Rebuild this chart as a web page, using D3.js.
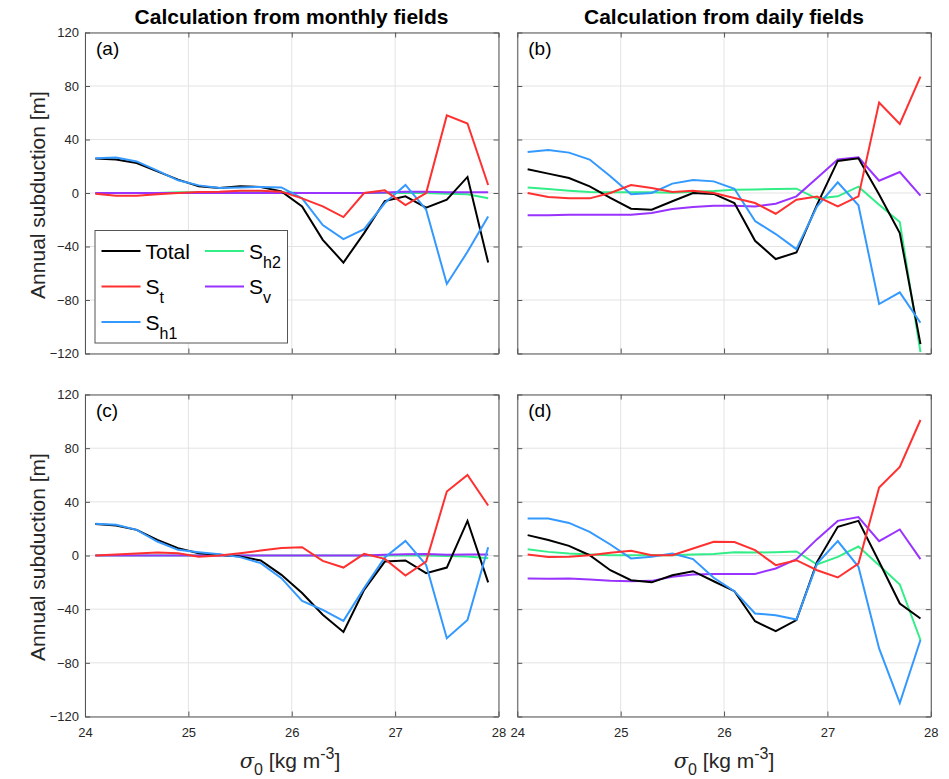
<!DOCTYPE html>
<html><head><meta charset="utf-8">
<script src="https://cdn.jsdelivr.net/npm/d3@7"></script>
<style>body{margin:0;background:#fff;} svg{display:block;font-family:"Liberation Sans",Arial,Helvetica,sans-serif;}</style>
</head><body>
<script>
const sigma = [24.1,24.3,24.5,24.7,24.9,25.1,25.3,25.5,25.7,25.9,26.1,26.3,26.5,26.7,26.9,27.1,27.3,27.5,27.7,27.9];
const xTicks = [24,25,26,27,28];
const yTicks = [-120,-80,-40,0,40,80,120];
const seriesNames = ["Total","St","Sh1","Sh2","Sv"];
const seriesColors = ["#000000","#ff3030","#3399ff","#33ee88","#9933ff"];

// Panel (a): monthly fields
const aTotal = [25.7,25,22.4,16.2,10,5,3.7,5,4.5,1.2,-10,-35,-52,-30,-6,-2.5,-11,-5,12,-52];
const aSt    = [-0.5,-2,-2,-1,0,0.7,1,1.7,1.7,1,-4,-10,-18,0,2,-9,0,58,52,6];
const aSh1   = [26,26.5,23.6,16.7,9.5,5.7,3.7,4.2,4.5,4.2,-4,-24,-34.5,-27,-7.5,6,-12.5,-68,-44,-17.5];
const aSh2   = [0,0,0,0,0.5,0.5,0.5,0.5,0.5,0.5,0,0,0,0,0,0,0,-0.5,-1,-4];
const aSv    = [0,0,0,0,0,0,0,0,0,0,0,0,0,0,0.3,1,1,0.5,0.5,0.5];
// Panel (b): daily fields
const bTotal = [17.7,14.5,11.2,5,-3.7,-11.7,-12.5,-6.2,0,-0.7,-7.5,-35.7,-49.4,-44.4,-8.7,24,26,-1.2,-30,-113];
const bSt    = [0,-3,-4,-4,0,6,3.7,0.7,1.7,0,-3.7,-7.5,-15.5,-5,-2.7,-10,-2.5,67.6,51.6,87];
const bSh1   = [30.7,32.2,30.2,25,12.5,-1,0,7,9.7,8.7,3.2,-21,-30.7,-42,-10,8,-9.2,-83,-74.3,-97];
const bSh2   = [4.2,3,1.7,0.7,0.5,0.5,0.5,0.2,1,1.5,2.5,2.7,3,3.2,-4.2,-2.5,4.7,-8.7,-21.7,-119];
const bSv    = [-16.7,-16.7,-16.2,-16.2,-16.2,-16.2,-15,-12,-10.5,-9.5,-9.5,-10,-8,-2.5,11.2,25,26.7,9.2,15.7,-2];
// Panel (c): monthly fields
const cTotal = [23.4,22.4,19.1,11.7,5.5,1.7,0.5,-0.7,-3.7,-14.4,-28,-44.2,-57,-25.6,-4.5,-3.7,-13.2,-9,25.8,-20];
const cSt    = [0,0.7,1.5,2.2,1.7,-1,0,1.7,3.7,5.5,6.2,-4,-9,1.2,-2.5,-15,-4.5,47.7,60,37.3];
const cSh1   = [23.6,22.9,19.1,10.4,4.2,2.5,1,-1.2,-5.7,-16.9,-33.8,-40.5,-48.7,-24.3,-1.5,10.9,-7,-61.6,-48,6.2];
const cSh2   = [0,0,0,0,0,0,0,0,0,0,0,0,0,0,0,0,0,-0.3,-0.7,-2];
const cSv    = [0,0,0,0,0,0,0,0,0,0,0,0,0,0,0.5,1,1.2,0.5,0.7,0.7];
// Panel (d): daily fields
const dTotal = [15.2,11.5,7.2,0.2,-11,-18.4,-20,-14.7,-11.7,-19.2,-26.6,-49,-56.4,-48.2,-4.7,21.4,25.8,-4.7,-35.8,-47];
const dSt    = [0.7,-1.2,-1,0.2,2,3.5,0.2,0.2,5.2,10.2,10,4,-7.2,-3.5,-11,-16.4,-6,50.7,66,101];
const dSh1   = [27.6,27.6,24.3,17.6,8.2,-2.2,-1,1.5,-2.7,-16.6,-26.6,-43.2,-44.5,-47.7,-6,10.7,-8.4,-69.3,-110,-63];
const dSh2   = [4.7,2.7,1.5,0.7,0.2,0.2,0.2,0.2,0.7,1.2,2.5,2.2,2.5,3,-6.7,-1,6.7,-7.2,-21.6,-63];
const dSv    = [-17.2,-17.4,-17.2,-17.9,-18.9,-19.1,-18.9,-15.9,-14.2,-13.7,-13.7,-13.7,-9.7,-2.7,12.2,25.8,28.6,10.7,19.4,-2.7];

const panels = [
  {tag:"(a)", series:[aTotal,aSt,aSh1,aSh2,aSv], x0:85, x1:498.5, y0:32.5, y1:353.5, yl:true, xl:false, legend:true},
  {tag:"(b)", series:[bTotal,bSt,bSh1,bSh2,bSv], x0:517.3, x1:930.8, y0:32.5, y1:353.5, yl:false, xl:false},
  {tag:"(c)", series:[cTotal,cSt,cSh1,cSh2,cSv], x0:85, x1:498.5, y0:394.5, y1:716.5, yl:true, xl:true},
  {tag:"(d)", series:[dTotal,dSt,dSh1,dSh2,dSv], x0:517.3, x1:930.8, y0:394.5, y1:716.5, yl:false, xl:true}
];

const W=949,H=779;
const svg = d3.select("body").append("svg").attr("width",W).attr("height",H);

panels.forEach(p=>{
  const x = d3.scaleLinear().domain([24,28]).range([p.x0,p.x1]);
  const y = d3.scaleLinear().domain([-120,120]).range([p.y1,p.y0]);
  const g = svg.append("g");
  g.append("rect").attr("x",p.x0).attr("y",p.y0).attr("width",p.x1-p.x0).attr("height",p.y1-p.y0).attr("fill","#fff");
  // grid
  g.selectAll(".gx").data(xTicks).join("line").attr("x1",d=>x(d)).attr("x2",d=>x(d)).attr("y1",p.y0).attr("y2",p.y1).attr("stroke","#e3e3e3").attr("stroke-width",1);
  g.selectAll(".gy").data(yTicks).join("line").attr("y1",d=>y(d)).attr("y2",d=>y(d)).attr("x1",p.x0).attr("x2",p.x1).attr("stroke","#e3e3e3").attr("stroke-width",1);
  // axes (ticks inward)
  const tl=5;
  const axL = d3.axisLeft(y).tickValues(yTicks).tickSizeInner(-tl).tickSizeOuter(0).tickPadding(6).tickFormat(p.yl?d3.format("d"):"");
  const axR = d3.axisRight(y).tickValues(yTicks).tickSizeInner(-tl).tickSizeOuter(0).tickFormat("");
  const axB = d3.axisBottom(x).tickValues(xTicks).tickSizeInner(-tl).tickSizeOuter(0).tickPadding(11).tickFormat(p.xl?d3.format("d"):"");
  const axT = d3.axisTop(x).tickValues(xTicks).tickSizeInner(-tl).tickSizeOuter(0).tickFormat("");
  [[axL,`translate(${p.x0},0)`],[axR,`translate(${p.x1},0)`],[axB,`translate(0,${p.y1})`],[axT,`translate(0,${p.y0})`]].forEach(([ax,tr])=>{
    const a=g.append("g").attr("transform",tr).call(ax);
    a.select(".domain").attr("stroke","#555");
    a.selectAll(".tick line").attr("stroke","#555");
    a.selectAll("text").attr("font-size",13).attr("fill","#262626").attr("font-family","Liberation Sans, Arial, sans-serif");
  });
  // lines
  const line = d3.line().x((d,i)=>x(sigma[i])).y(d=>y(d));
  [3,4,0,2,1].forEach(k=>{
    g.append("path").datum(p.series[k]).attr("d",line).attr("fill","none").attr("stroke",seriesColors[k]).attr("stroke-width",2).attr("stroke-linejoin","miter");
  });
  g.append("text").attr("x",p.x0+11).attr("y",p.y0+22).attr("font-size",19).attr("fill","#000").text(p.tag);

  if(p.legend){
    const lg = svg.append("g");
    lg.append("rect").attr("x",95).attr("y",230.5).attr("width",192.5).attr("height",112.5).attr("fill","#fff").attr("stroke","#555").attr("stroke-width",1);
    const items=[
      {k:0,cx:101.5,cy:251,main:"Total",sub:""},
      {k:1,cx:101.5,cy:286.5,main:"S",sub:"t"},
      {k:2,cx:101.5,cy:322,main:"S",sub:"h1"},
      {k:3,cx:205,cy:251,main:"S",sub:"h2"},
      {k:4,cx:205,cy:286.5,main:"S",sub:"v"}
    ];
    items.forEach(it=>{
      lg.append("line").attr("x1",it.cx).attr("x2",it.cx+39).attr("y1",it.cy).attr("y2",it.cy).attr("stroke",seriesColors[it.k]).attr("stroke-width",2);
      const t=lg.append("text").attr("x",it.cx+44).attr("y",it.cy+7.5).attr("font-size",21).attr("fill","#000");
      t.append("tspan").text(it.main);
      if(it.sub) t.append("tspan").attr("dy",9).attr("font-size",16).text(it.sub);
    });
  }
});

// titles
svg.append("text").attr("x",291.5).attr("y",24).attr("text-anchor","middle").attr("font-size",21).attr("font-weight","bold").text("Calculation from monthly fields");
svg.append("text").attr("x",724).attr("y",24).attr("text-anchor","middle").attr("font-size",21).attr("font-weight","bold").text("Calculation from daily fields");
// y labels
[195,557].forEach(cy=>{
  svg.append("text").attr("transform",`translate(45,${cy}) rotate(-90)`).attr("text-anchor","middle").attr("font-size",21).attr("fill","#262626").text("Annual subduction [m]");
});
// x labels
[290,724].forEach(cx=>{
  const t=svg.append("text").attr("x",cx).attr("y",768).attr("text-anchor","middle").attr("font-size",21).attr("fill","#262626");
  t.append("tspan").attr("font-style","italic").attr("font-family","DejaVu Serif, serif").text("σ");
  t.append("tspan").attr("dy",7).attr("font-size",16).text("0");
  t.append("tspan").attr("dy",-7).text(" [kg m");
  t.append("tspan").attr("dy",-9).attr("font-size",16).text("-3");
  t.append("tspan").attr("dy",9).text("]");
});
</script>
</body></html>
